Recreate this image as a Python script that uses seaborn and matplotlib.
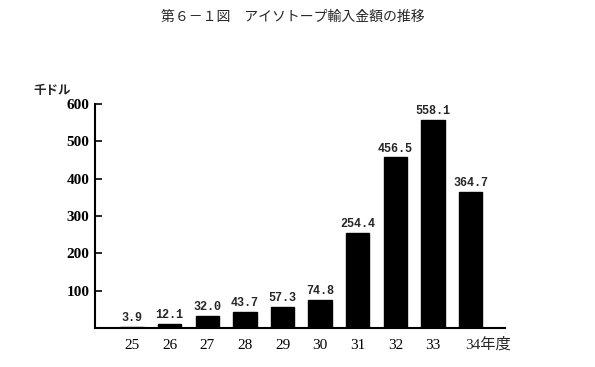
import matplotlib
matplotlib.use("Agg")
import matplotlib.pyplot as plt
import seaborn as sns
import pandas as pd

years = ["25", "26", "27", "28", "29", "30", "31", "32", "33", "34"]
values = [3.9, 12.1, 32.0, 43.7, 57.3, 74.8, 254.4, 456.5, 558.1, 364.7]
value_labels = ["3.9", "12.1", "32.0", "43.7", "57.3", "74.8", "254.4", "456.5", "558.1", "364.7"]
yticks = [100, 200, 300, 400, 500, 600]

sns.set_theme(style="white")
plt.rcParams['font.family'] = ['Liberation Serif', 'Noto Sans CJK JP', 'DejaVu Sans']

df = pd.DataFrame({"year": years, "value": values})

fig = plt.figure(figsize=(5.95, 3.67), dpi=100)
ax = fig.add_axes([0.160, 0.106, 0.689, 0.611])
sns.barplot(data=df, x="year", y="value", color="black", width=0.62,
            saturation=1, ax=ax, edgecolor="black")

ax.set_xlim(-0.98, 9.92)
ax.set_ylim(0, 600)
ax.set_yticks(yticks)
ax.set_yticklabels([str(t) for t in yticks], fontsize=11, fontweight="bold")
ax.set_xticks(range(len(years)))
ax.set_xticklabels(years[:-1] + [""], fontsize=11)
ax.set_xlabel("")
ax.set_ylabel("")

for s in ["top", "right"]:
    ax.spines[s].set_visible(False)
ax.spines["left"].set_linewidth(1.5)
ax.spines["bottom"].set_linewidth(1.5)
ax.spines["left"].set_color("black")
ax.spines["bottom"].set_color("black")
ax.tick_params(axis="y", direction="in", length=5, width=1.2, left=True, pad=4, colors="black")
ax.tick_params(axis="x", length=0, pad=8, colors="black")

for i, (v, lab) in enumerate(zip(values, value_labels)):
    ax.text(i, v + 8, lab, ha="center", va="bottom", fontsize=8.5, fontweight="bold",
            family="Liberation Mono")

# last tick label with unit suffix
last_label_y = ax.xaxis.get_ticklabels()[0]
ax.text(len(years) - 1 - 0.15, -0.04, years[-1] + "年度", transform=ax.get_xaxis_transform(),
        ha="left", va="top", fontsize=11, family=["Liberation Serif", "Noto Sans CJK JP"])
ax.text(-0.105, 1.03, "千ドル", transform=ax.transAxes, ha="center", va="bottom",
        fontsize=9, fontweight="bold", family=["Noto Sans CJK JP"])

fig.text(0.492, 0.955, "第６－１図　アイソトープ輸入金額の推移", ha="center", va="center",
         fontsize=10, family=["Noto Sans CJK JP"])

fig.savefig("out.png", dpi=100, facecolor="white")
